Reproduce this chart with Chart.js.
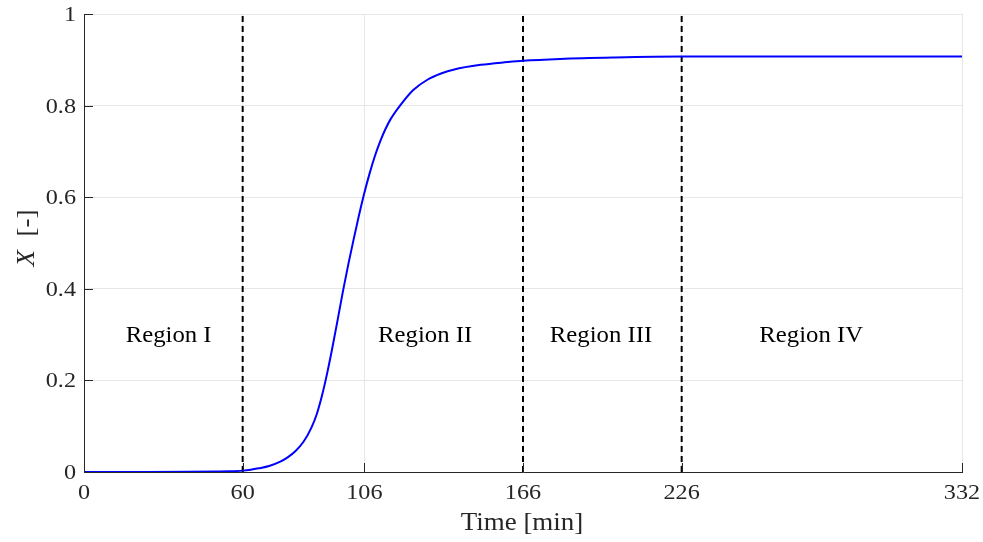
<!DOCTYPE html>
<html>
<head>
<meta charset="utf-8">
<script src="https://cdn.jsdelivr.net/npm/chart.js@4/dist/chart.umd.min.js"></script>
<style>
  html, body { margin: 0; padding: 0; background: #fff; }
  #wrap { width: 983px; height: 542px; }
</style>
</head>
<body>
<div id="wrap"><canvas id="c"></canvas></div>
<script>
// conversion curve
const timeMin = [0, 20, 40, 50, 55, 60, 63, 66, 70, 74, 77, 80, 83, 86, 88, 90, 92, 94, 96, 98, 100, 102, 104, 106, 108, 110, 112, 114, 116, 119.5, 124.5, 130, 135, 140, 150, 160, 166, 180, 200, 226, 260, 300, 332];
const conversion = [0, 0, 0.0003, 0.001, 0.0015, 0.003, 0.005, 0.008, 0.013, 0.022, 0.032, 0.046, 0.066, 0.097, 0.126, 0.167, 0.217, 0.274, 0.335, 0.397, 0.455, 0.509, 0.561, 0.609, 0.652, 0.69, 0.722, 0.749, 0.771, 0.8, 0.834, 0.857, 0.87, 0.879, 0.889, 0.895, 0.898, 0.902, 0.905, 0.907, 0.907, 0.907, 0.907];

const xTicks = [0, 60, 106, 166, 226, 332];
const yTicks = [0, 0.2, 0.4, 0.6, 0.8, 1];
const yTickLabels = ['0', '0.2', '0.4', '0.6', '0.8', '1'];
const boundaries = [60, 166, 226];
const regionNames = ['Region I', 'Region II', 'Region III', 'Region IV'];
const regionX = [32, 129, 195.5, 275];
const regionY = 0.3;

const FONT = '"Liberation Serif", "Times New Roman", serif';
const TXT = '#262626';
const STRETCH = 1.1;

const datasets = [{
  data: timeMin.map((t, i) => ({ x: t, y: conversion[i] })),
  borderColor: '#0000ff',
  borderWidth: 2,
  pointRadius: 0,
  cubicInterpolationMode: 'monotone',
  fill: false
}];
boundaries.forEach(b => {
  datasets.push({
    data: [{ x: b, y: 0 }, { x: b, y: 1 }],
    borderColor: '#000',
    borderWidth: 2,
    borderDash: [6, 4],
    pointRadius: 0,
    fill: false
  });
});

// text slightly widened to look like the LaTeX font of the original
function text(ctx, str, x, y, align, font, color) {
  ctx.save();
  ctx.font = font;
  ctx.fillStyle = color;
  ctx.textAlign = align;
  ctx.textBaseline = 'alphabetic';
  ctx.translate(x, y);
  ctx.scale(STRETCH, 1);
  ctx.fillText(str, 0, 0);
  ctx.restore();
}

const decorations = {
  id: 'decorations',
  afterDraw(chart) {
    const { ctx, chartArea, scales } = chart;
    const x = scales.x, y = scales.y;
    ctx.save();
    // inward tick marks
    ctx.strokeStyle = TXT;
    ctx.lineWidth = 1;
    ctx.beginPath();
    xTicks.forEach(v => {
      const px = Math.round(x.getPixelForValue(v)) + 0.5;
      ctx.moveTo(px, chartArea.bottom);
      ctx.lineTo(px, chartArea.bottom - 9);
    });
    yTicks.forEach(v => {
      const py = Math.round(y.getPixelForValue(v)) + 0.5;
      ctx.moveTo(chartArea.left, py);
      ctx.lineTo(chartArea.left + 9, py);
    });
    ctx.stroke();
    ctx.restore();

    // tick labels
    const tickFont = '22px ' + FONT;
    xTicks.forEach(v => {
      text(ctx, String(v), x.getPixelForValue(v), chartArea.bottom + 27, 'center', tickFont, TXT);
    });
    yTicks.forEach((v, i) => {
      text(ctx, yTickLabels[i], chartArea.left - 8, y.getPixelForValue(v) + 7, 'right', tickFont, TXT);
    });

    // region labels
    regionNames.forEach((name, i) => {
      text(ctx, name, x.getPixelForValue(regionX[i]), y.getPixelForValue(regionY) + 7.5, 'center', '22.5px ' + FONT, '#000');
    });

    // x title
    text(ctx, 'Time [min]', (chartArea.left + chartArea.right) / 2 - 1, 530, 'center', '24.5px ' + FONT, TXT);

    // y title with italic X
    ctx.save();
    ctx.translate(34, 238);
    ctx.rotate(-Math.PI / 2);
    ctx.scale(STRETCH, 1);
    ctx.fillStyle = TXT;
    ctx.textAlign = 'left';
    ctx.textBaseline = 'alphabetic';
    ctx.font = 'italic 24.5px ' + FONT;
    const wX = ctx.measureText('X').width;
    ctx.font = '24.5px ' + FONT;
    const wRest = ctx.measureText('  [-]').width;
    const start = -(wX + wRest) / 2;
    ctx.font = 'italic 24.5px ' + FONT;
    ctx.fillText('X', start, 0);
    ctx.font = '24.5px ' + FONT;
    ctx.fillText('  [-]', start + wX, 0);
    ctx.restore();
  }
};

new Chart(document.getElementById('c'), {
  type: 'line',
  data: { datasets },
  options: {
    responsive: true,
    maintainAspectRatio: false,
    animation: false,
    layout: { padding: { top: 14, right: 21, left: 0, bottom: 0 } },
    plugins: { legend: { display: false }, tooltip: { enabled: false } },
    scales: {
      x: {
        type: 'linear',
        min: 0,
        max: 332,
        afterBuildTicks: s => { s.ticks = xTicks.map(v => ({ value: v })); },
        afterFit: s => { s.height = 70; },
        grid: { color: '#e6e6e6', drawTicks: false },
        border: { display: true, color: TXT, width: 1 },
        ticks: { display: false }
      },
      y: {
        min: 0,
        max: 1,
        afterBuildTicks: s => { s.ticks = yTicks.map(v => ({ value: v })); },
        afterFit: s => { s.width = 84; },
        grid: { color: '#e6e6e6', drawTicks: false },
        border: { display: true, color: TXT, width: 1 },
        ticks: { display: false }
      }
    }
  },
  plugins: [decorations]
});
</script>
</body>
</html>
